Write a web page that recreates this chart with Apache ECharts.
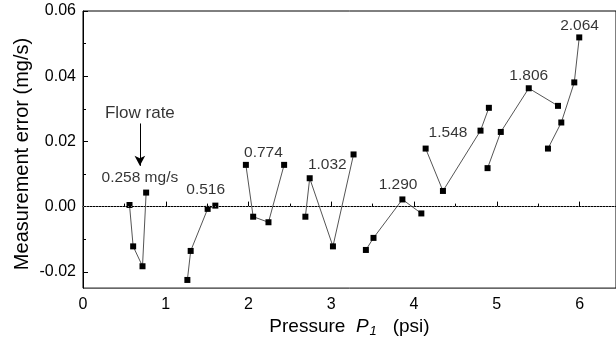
<!DOCTYPE html>
<html>
<head>
<meta charset="utf-8">
<script src="https://cdn.jsdelivr.net/npm/echarts@6/dist/echarts.min.js"></script>
<style>html,body{margin:0;padding:0;background:#fff}#c{width:616px;height:343px}</style>
</head>
<body>
<div id="c"></div>
<script>
// ---- data ----
const flowRates = ['0.258', '0.516', '0.774', '1.032', '1.290', '1.548', '1.806', '2.064'];
const pressures = [
  [0.562, 0.606, 0.719, 0.763],
  [1.261, 1.301, 1.506, 1.599],
  [1.968, 2.056, 2.241, 2.430],
  [2.687, 2.739, 3.020, 3.269],
  [3.418, 3.510, 3.859, 4.088],
  [4.140, 4.349, 4.803, 4.904],
  [4.888, 5.048, 5.386, 5.739],
  [5.618, 5.779, 5.936, 5.996]
];
const errors = [
  [0.0005, -0.0122, -0.0183, 0.0043],
  [-0.0225, -0.0136, -0.0007, 0.0003],
  [0.0128, -0.0031, -0.0048, 0.0128],
  [-0.0031, 0.0087, -0.0122, 0.0160],
  [-0.0133, -0.0096, 0.0022, -0.0021],
  [0.0178, 0.0048, 0.0233, 0.0303],
  [0.0118, 0.0229, 0.0363, 0.0309],
  [0.0178, 0.0258, 0.0381, 0.0519]
];
// label anchor positions (data coords)
const labelX = [0.687, 1.482, 2.180, 2.952, 3.807, 4.410, 5.386, 6.000];
const labelY = [0.0088, 0.0052, 0.0164, 0.0127, 0.0067, 0.0227, 0.0400, 0.0555];
const flowNote = { text: 'Flow rate', x: 0.687, y: 0.0286 };
const arrowFrom = [0.687, 0.0255];
const arrowTo = [0.687, 0.0125];
const yMajorTicks = [-0.02, 0.00, 0.02, 0.04, 0.06];
const yMinorTicks = [-0.01, 0.01, 0.03, 0.05];

const FONT = "'Liberation Sans', Arial, sans-serif";
const chart = echarts.init(document.getElementById('c'), null, { renderer: 'canvas' });

const series = pressures.map((xs, i) => ({
  type: 'line',
  data: xs.map((x, j) => [x, errors[i][j]]),
  symbol: 'rect',
  symbolSize: 6,
  showAllSymbol: true,
  itemStyle: { color: '#000' },
  lineStyle: { color: '#555', width: 1 },
  animation: false,
  z: 3
}));

// annotations
series.push({
  type: 'scatter',
  symbolSize: 0,
  data: labelX.map((x, i) => ({ value: [x, labelY[i]], name: flowRates[i] })),
  label: {
    show: true,
    position: 'inside',
    color: '#000',
    fontFamily: FONT,
    fontSize: 15.5,
    formatter: p => p.dataIndex === 0 ? p.name + ' mg/s' : p.name
  },
  animation: false,
  silent: true
});
series.push({
  type: 'scatter',
  symbolSize: 0,
  data: [{ value: [flowNote.x, flowNote.y], name: flowNote.text }],
  label: { show: true, position: 'inside', formatter: '{b}', color: '#000', fontFamily: FONT, fontSize: 17 },
  animation: false,
  silent: true
});
// arrow
series.push({
  type: 'line',
  data: [],
  markLine: {
    silent: true,
    label: { show: false },
    lineStyle: { color: '#000', width: 1, type: 'solid' },
    data: [[
      { coord: arrowFrom, symbol: 'none', symbolSize: 0 },
      { coord: arrowTo, symbol: 'arrow', symbolSize: [8, 10] }
    ]],
    animation: false
  }
});
// zero reference line
series.push({
  type: 'line',
  data: [],
  markLine: {
    silent: true,
    symbol: 'none',
    label: { show: false },
    lineStyle: { color: '#777', width: 1, type: [1, 2] },
    data: [{ yAxis: 0 }],
    animation: false
  }
});

chart.setOption({
  animation: false,
  backgroundColor: '#fff',
  grid: { left: 83, right: -2, top: 11, bottom: 51, show: true, borderColor: '#000', borderWidth: 1, backgroundColor: 'transparent' },
  xAxis: {
    type: 'value',
    min: 0, max: 6.44, interval: 1,
    name: '{n|Pressure  }{i|P}{s|1}{n|   (psi)}',
    nameLocation: 'middle',
    nameGap: 25,
    nameTextStyle: {
      rich: {
        n: { fontSize: 19, fontFamily: FONT, color: '#000' },
        i: { fontSize: 19, fontFamily: FONT, fontStyle: 'italic', color: '#000' },
        s: { fontSize: 13, fontFamily: FONT, fontStyle: 'italic', color: '#000', padding: [10, 0, 0, 1] }
      }
    },
    axisLine: { lineStyle: { color: '#000', width: 1 } },
    axisTick: { inside: true, length: 5, lineStyle: { color: '#000' } },
    minorTick: { show: true, splitNumber: 2, length: 3, lineStyle: { color: '#000' } },
    axisLabel: { color: '#000', fontSize: 16, fontFamily: FONT, margin: 8, showMaxLabel: false },
    splitLine: { show: false }
  },
  yAxis: [{
    type: 'value',
    min: -0.025, max: 0.06,
    axisLine: { show: true, lineStyle: { color: '#000', width: 1 } },
    axisTick: { show: true, inside: true, length: 5, customValues: yMajorTicks, lineStyle: { color: '#000' } },
    axisLabel: { color: '#000', fontSize: 16, fontFamily: FONT, margin: 7, customValues: yMajorTicks, formatter: v => v.toFixed(2) },
    splitLine: { show: false }
  }, {
    type: 'value',
    position: 'left',
    min: -0.025, max: 0.06,
    axisLine: { show: false },
    axisTick: { show: true, inside: true, length: 3, customValues: yMinorTicks, lineStyle: { color: '#000' } },
    axisLabel: { show: false, customValues: yMinorTicks },
    splitLine: { show: false }
  }],
  graphic: [{
    type: 'text',
    x: 22, y: 154,
    rotation: Math.PI / 2,
    style: { text: 'Measurement error (mg/s)', fill: '#000', font: '20px ' + FONT, align: 'center', verticalAlign: 'middle' }
  }],
  series: series
});
</script>
</body>
</html>
